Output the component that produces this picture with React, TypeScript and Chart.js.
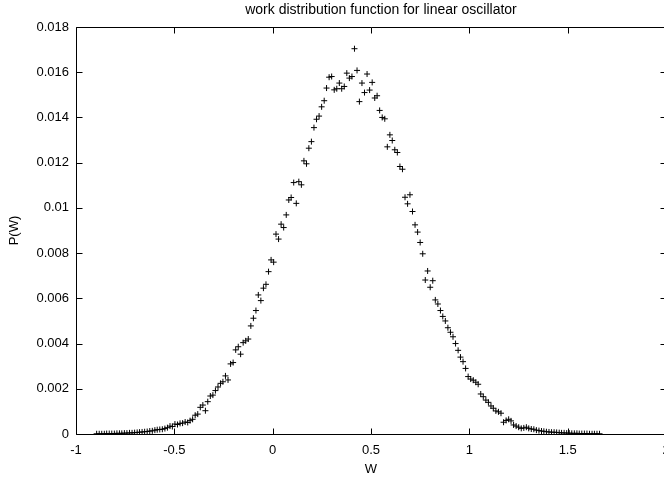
import React, { useEffect, useRef } from 'react';
import { Chart, registerables } from 'chart.js';

Chart.register(...registerables);

const TITLE = 'work distribution function for linear oscillator';
const X_LABEL = 'W';
const Y_LABEL = 'P(W)';
const X_TICK_LABELS = ['-1', '-0.5', '0', '0.5', '1', '1.5', '2'];
const Y_TICK_LABELS = ['0', '0.002', '0.004', '0.006', '0.008', '0.01', '0.012', '0.014', '0.016', '0.018'];

const W_VALUES = [
  -0.895, -0.882, -0.869, -0.856, -0.844, -0.831, -0.818, -0.805, -0.792, -0.779,
  -0.767, -0.754, -0.741, -0.728, -0.715, -0.702, -0.689, -0.677, -0.664, -0.651,
  -0.638, -0.625, -0.612, -0.599, -0.587, -0.574, -0.561, -0.548, -0.535, -0.522,
  -0.510, -0.497, -0.484, -0.471, -0.458, -0.445, -0.432, -0.420, -0.407, -0.394,
  -0.381, -0.368, -0.355, -0.342, -0.330, -0.317, -0.304, -0.291, -0.278, -0.265,
  -0.253, -0.240, -0.227, -0.214, -0.201, -0.188, -0.175, -0.163, -0.150, -0.137,
  -0.124, -0.111, -0.098, -0.085, -0.073, -0.060, -0.047, -0.034, -0.021, -0.008,
  0.005, 0.017, 0.030, 0.043, 0.056, 0.069, 0.082, 0.094, 0.107, 0.120,
  0.133, 0.146, 0.159, 0.172, 0.184, 0.197, 0.210, 0.223, 0.236, 0.249,
  0.262, 0.274, 0.287, 0.300, 0.313, 0.326, 0.339, 0.351, 0.364, 0.377,
  0.390, 0.403, 0.416, 0.429, 0.441, 0.454, 0.467, 0.480, 0.493, 0.506,
  0.519, 0.531, 0.544, 0.557, 0.570, 0.583, 0.596, 0.608, 0.621, 0.634,
  0.647, 0.660, 0.673, 0.686, 0.698, 0.711, 0.724, 0.737, 0.750, 0.763,
  0.776, 0.788, 0.801, 0.814, 0.827, 0.840, 0.853, 0.865, 0.878, 0.891,
  0.904, 0.917, 0.930, 0.943, 0.955, 0.968, 0.981, 0.994, 1.007, 1.020,
  1.033, 1.045, 1.058, 1.071, 1.084, 1.097, 1.110, 1.122, 1.135, 1.148,
  1.161, 1.174, 1.187, 1.200, 1.212, 1.225, 1.238, 1.251, 1.264, 1.277,
  1.290, 1.302, 1.315, 1.328, 1.341, 1.354, 1.367, 1.379, 1.392, 1.405,
  1.418, 1.431, 1.444, 1.457, 1.469, 1.482, 1.495, 1.508, 1.521, 1.534,
  1.547, 1.559, 1.572, 1.585, 1.598, 1.611, 1.624, 1.636, 1.649, 1.662,
];

const P_VALUES = [
  0.00001, 0.00001, 0.00001, 0.00001, 0.00002, 0.00002, 0.00002, 0.00002, 0.00003, 0.00003,
  0.00003, 0.00004, 0.00004, 0.00005, 0.00005, 0.00006, 0.00007, 0.00008, 0.00009, 0.0001,
  0.00011, 0.00013, 0.00014, 0.00017, 0.00019, 0.0002, 0.00021, 0.00024, 0.00028, 0.00035,
  0.00033, 0.00044, 0.00042, 0.00047, 0.00048, 0.00053, 0.00051, 0.00059, 0.00065, 0.00083,
  0.00088, 0.00118, 0.00128, 0.00103, 0.00143, 0.00168, 0.00172, 0.00192, 0.00208, 0.00224,
  0.00231, 0.00257, 0.00239, 0.0031, 0.00316, 0.00372, 0.00386, 0.00353, 0.00404, 0.00412,
  0.0042, 0.00478, 0.00512, 0.00546, 0.00615, 0.0059, 0.00645, 0.00662, 0.00718, 0.0077,
  0.0076, 0.00884, 0.00862, 0.00928, 0.00913, 0.00969, 0.01035, 0.01046, 0.01112, 0.0102,
  0.01116, 0.01102, 0.01208, 0.01195, 0.01264, 0.01293, 0.01355, 0.01392, 0.01406, 0.01447,
  0.01474, 0.0153, 0.01578, 0.01581, 0.01522, 0.01527, 0.01552, 0.01527, 0.01537, 0.01596,
  0.01574, 0.01581, 0.01704, 0.01608, 0.0147, 0.01552, 0.0151, 0.01592, 0.01521, 0.01555,
  0.01486, 0.01496, 0.01431, 0.0140, 0.01394, 0.0127, 0.01323, 0.01298, 0.01257, 0.01245,
  0.01183, 0.01171, 0.01047, 0.01018, 0.01058, 0.00984, 0.00925, 0.00893, 0.00847, 0.00797,
  0.00681, 0.00721, 0.00649, 0.00678, 0.00593, 0.00575, 0.00546, 0.0052, 0.005, 0.0047,
  0.0045, 0.0043, 0.004, 0.0037, 0.0034, 0.0032, 0.0029, 0.00254, 0.00243, 0.00238,
  0.00229, 0.0022, 0.00177, 0.00165, 0.0015, 0.0014, 0.00124, 0.00114, 0.00102, 0.00098,
  0.00092, 0.00052, 0.0006, 0.00065, 0.00058, 0.0004, 0.00035, 0.0003, 0.00025, 0.00027,
  0.0003, 0.00025, 0.00022, 0.00021, 0.00017, 0.00015, 0.00013, 0.00012, 0.0001, 0.00009,
  0.00008, 0.00008, 0.00007, 0.00006, 0.00005, 0.00005, 0.00004, 0.00004, 0.00003, 0.00003,
  0.00003, 0.00002, 0.00002, 0.00002, 0.00002, 0.00001, 0.00001, 0.00001, 0.00001, 0.00001,
];

const FONT_FAMILY = '"Liberation Sans", Arial, Helvetica, sans-serif';

const framePlugin = {
  id: 'gnuplotFrame',
  beforeDatasetsDraw(chart: any) {
    const { ctx, chartArea, scales } = chart;
    const xs = scales.x;
    const ys = scales.y;
    const l = Math.round(chartArea.left) + 0.5;
    const r = Math.round(chartArea.right) + 0.5;
    const t = Math.round(chartArea.top) + 0.5;
    const b = Math.round(chartArea.bottom) + 0.5;
    const tl = 6;
    ctx.save();
    ctx.strokeStyle = '#000';
    ctx.lineWidth = 1;
    ctx.beginPath();
    ctx.moveTo(l, t);
    ctx.lineTo(r, t);
    ctx.lineTo(r, b);
    ctx.lineTo(l, b);
    ctx.closePath();
    xs.ticks.forEach((tk: any) => {
      const px = Math.round(xs.getPixelForValue(tk.value)) + 0.5;
      ctx.moveTo(px, b);
      ctx.lineTo(px, b - tl);
      ctx.moveTo(px, t);
      ctx.lineTo(px, t + tl);
    });
    ys.ticks.forEach((tk: any) => {
      const py = Math.round(ys.getPixelForValue(tk.value)) + 0.5;
      ctx.moveTo(l, py);
      ctx.lineTo(l + tl, py);
      ctx.moveTo(r, py);
      ctx.lineTo(r - tl, py);
    });
    ctx.stroke();
    ctx.restore();
  },
  afterDraw(chart: any) {
    const { ctx } = chart;
    ctx.save();
    ctx.fillStyle = '#000';
    ctx.font = `14px ${FONT_FAMILY}`;
    ctx.textAlign = 'center';
    ctx.textBaseline = 'middle';
    ctx.fillText(TITLE, 381, 10);
    ctx.restore();
  },
};

export default function App() {
  const canvasRef = useRef<HTMLCanvasElement | null>(null);

  useEffect(() => {
    const canvas = canvasRef.current;
    if (!canvas) return;
    const points = W_VALUES.map((w, i) => ({ x: w, y: P_VALUES[i] }));
    const chart = new Chart(canvas, {
      type: 'scatter',
      data: {
        datasets: [
          {
            data: points,
            pointStyle: 'cross',
            pointRadius: 3,
            pointBorderWidth: 1,
            borderColor: '#000',
            backgroundColor: '#000',
            showLine: false,
          },
        ],
      },
      options: {
        responsive: false,
        animation: false,
        events: [],
        layout: { padding: { left: 0, right: 34, top: 27, bottom: 0 } },
        plugins: {
          legend: { display: false },
          tooltip: { enabled: false },
          title: { display: false },
        },
        scales: {
          x: {
            type: 'linear',
            min: -1,
            max: 2,
            grid: { display: false, drawTicks: false },
            border: { display: false },
            ticks: {
              stepSize: 0.5,
              padding: 9,
              color: '#000',
              font: { family: FONT_FAMILY, size: 13 },
              maxRotation: 0,
              autoSkip: false,
              callback: (_v: any, i: number) => X_TICK_LABELS[i],
            },
            title: {
              display: true,
              text: X_LABEL,
              color: '#000',
              font: { family: FONT_FAMILY, size: 13 },
              padding: { top: 0, bottom: 0 },
            },
            afterFit: (s: any) => {
              s.height = 43;
            },
          },
          y: {
            type: 'linear',
            min: 0,
            max: 0.018,
            grid: { display: false, drawTicks: false },
            border: { display: false },
            ticks: {
              stepSize: 0.002,
              padding: 7,
              color: '#000',
              font: { family: FONT_FAMILY, size: 13 },
              autoSkip: false,
              callback: (_v: any, i: number) => Y_TICK_LABELS[i],
            },
            title: {
              display: true,
              text: Y_LABEL,
              color: '#000',
              font: { family: FONT_FAMILY, size: 13 },
              padding: { top: 7, bottom: 0 },
            },
            afterFit: (s: any) => {
              s.width = 76;
            },
          },
        },
      },
      plugins: [framePlugin],
    });
    return () => chart.destroy();
  }, []);

  return (
    <div style={{ position: 'fixed', left: 0, top: 0, width: 664, height: 477, overflow: 'hidden', background: '#fff' }}>
      <canvas ref={canvasRef} width={700} height={477} style={{ width: 700, height: 477, display: 'block' }} />
    </div>
  );
}
